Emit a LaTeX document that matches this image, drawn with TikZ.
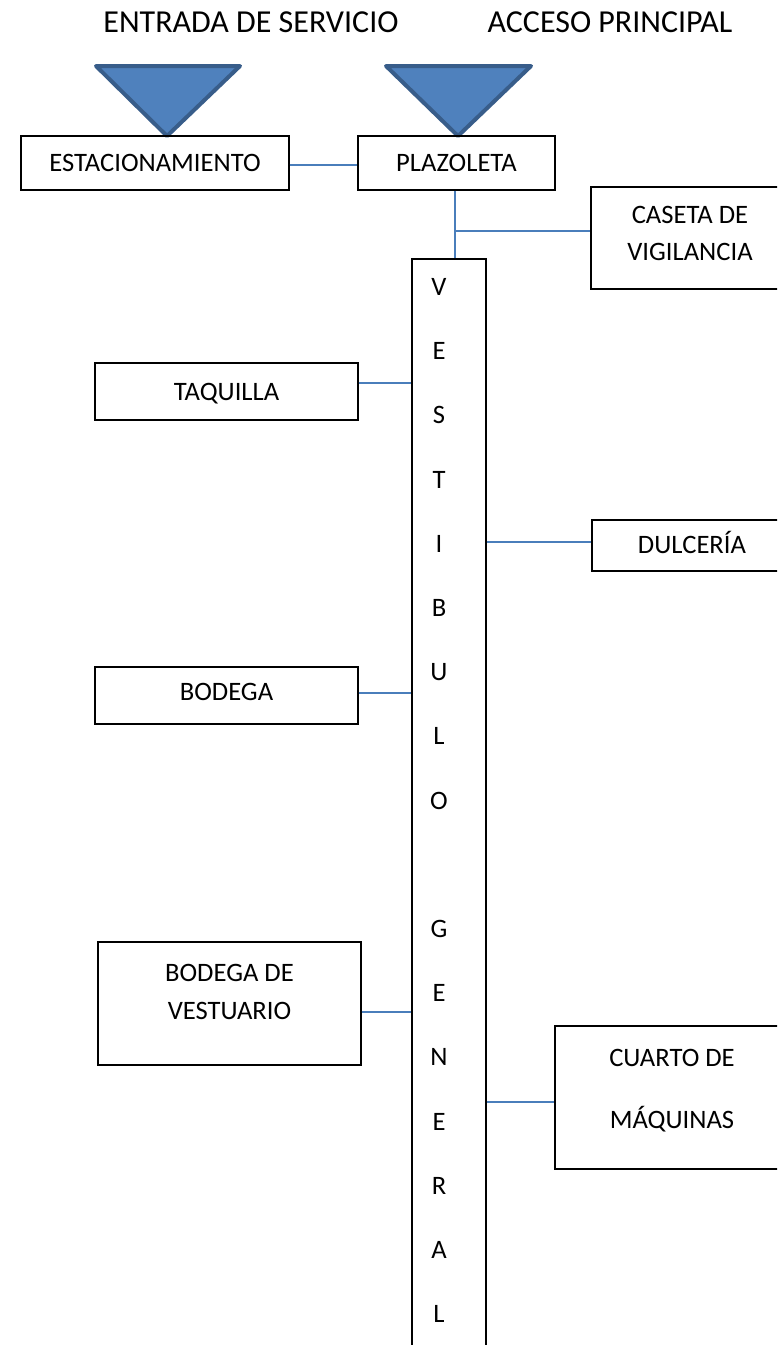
\documentclass[tikz,border=0pt]{standalone}
\usepackage{fontspec}
\setmainfont{Carlito}
\definecolor{linkblue}{RGB}{74,126,187}
\definecolor{trifill}{RGB}{79,129,189}
\definecolor{triedge}{RGB}{56,93,138}
\begin{document}
\begin{tikzpicture}[x=1pt,y=-1pt,
  box/.style={draw=black,line width=1.2pt,rectangle,inner sep=0pt,
    font=\fontsize{26.6}{30}\selectfont,text height=17pt,text depth=0pt},
  lbl/.style={inner sep=0pt,font=\fontsize{26.6}{30}\selectfont,text height=17pt,text depth=0pt},
  ttl/.style={inner sep=0pt,font=\fontsize{32}{36}\selectfont,text height=20.6pt,text depth=0pt},
  link/.style={draw=linkblue,line width=1.5pt},
  tri/.style={fill=trifill,draw=triedge,line width=4pt,line join=round}]
\useasboundingbox (0,0) rectangle (777,1345);
\clip (0,0) rectangle (777,1345);
% titles
\node[ttl] (t1) at (251,21.7) {ENTRADA DE SERVICIO};
\node[ttl] (t2) at (610,21.7) {ACCESO PRINCIPAL};
% triangles
\draw[tri] (96,66) -- (240,66) -- (167,136) -- cycle;
\draw[tri] (386,66) -- (531,66) -- (458,136) -- cycle;
% boxes
\node[box,minimum width=268pt,minimum height=54pt] (est) at (155,163) {ESTACIONAMIENTO};
\node[box,minimum width=197pt,minimum height=54pt] (plaz) at (456.5,163) {PLAZOLETA};
\node[box,minimum width=209pt,minimum height=102pt] (cas) at (695.5,238) {};
\node[lbl] (cas1) at (690,215) {CASETA DE};
\node[lbl] (cas2) at (690,252) {VIGILANCIA};
\node[box,minimum width=74pt,minimum height=1101pt] (vest) at (449,809.5) {};
\foreach \l [count=\i from 0] in {V,E,S,T,I,B,U,L,O,{},G,E,N,E,R,A,L}{
  \node[lbl] (v\i) at (439,{287+64.2*\i}) {\l};
}
\node[box,minimum width=263pt,minimum height=57pt] (taq) at (226.5,391.5) {TAQUILLA};
\node[box,minimum width=208pt,minimum height=51pt] (dul) at (696,545.5) {};
\node[lbl] (dultx) at (692,545) {DULCERÍA};
\node[box,minimum width=263pt,minimum height=57pt] (bod) at (226.5,695.5) {};
\node[lbl] (bodtx) at (226.5,692) {BODEGA};
\node[box,minimum width=263pt,minimum height=123pt] (bves) at (229.5,1003.5) {};
\node[lbl] (bves1) at (229.5,973) {BODEGA DE};
\node[lbl] (bves2) at (229.5,1011) {VESTUARIO};
\node[box,minimum width=245pt,minimum height=143pt] (cua) at (677.5,1097.5) {};
\node[lbl] (cua1) at (672,1058) {CUARTO DE};
\node[lbl] (cua2) at (672,1120) {MÁQUINAS};
% connectors
\coordinate (jest) at (0,165);
\coordinate (jcas) at (455,231);
\coordinate (jtaq) at (0,383);
\coordinate (jdul) at (0,542);
\coordinate (jbod) at (0,693);
\coordinate (jbves) at (0,1012);
\coordinate (jcua) at (0,1102);
\draw[link] (est.east |- jest) -- (plaz.west |- jest);
\draw[link] (jcas |- plaz.south) -- (jcas |- vest.north);
\draw[link] (jcas) -- (jcas -| cas.west);
\draw[link] (taq.east |- jtaq) -- (vest.west |- jtaq);
\draw[link] (vest.east |- jdul) -- (dul.west |- jdul);
\draw[link] (bod.east |- jbod) -- (vest.west |- jbod);
\draw[link] (bves.east |- jbves) -- (vest.west |- jbves);
\draw[link] (vest.east |- jcua) -- (cua.west |- jcua);
\end{tikzpicture}
\end{document}
